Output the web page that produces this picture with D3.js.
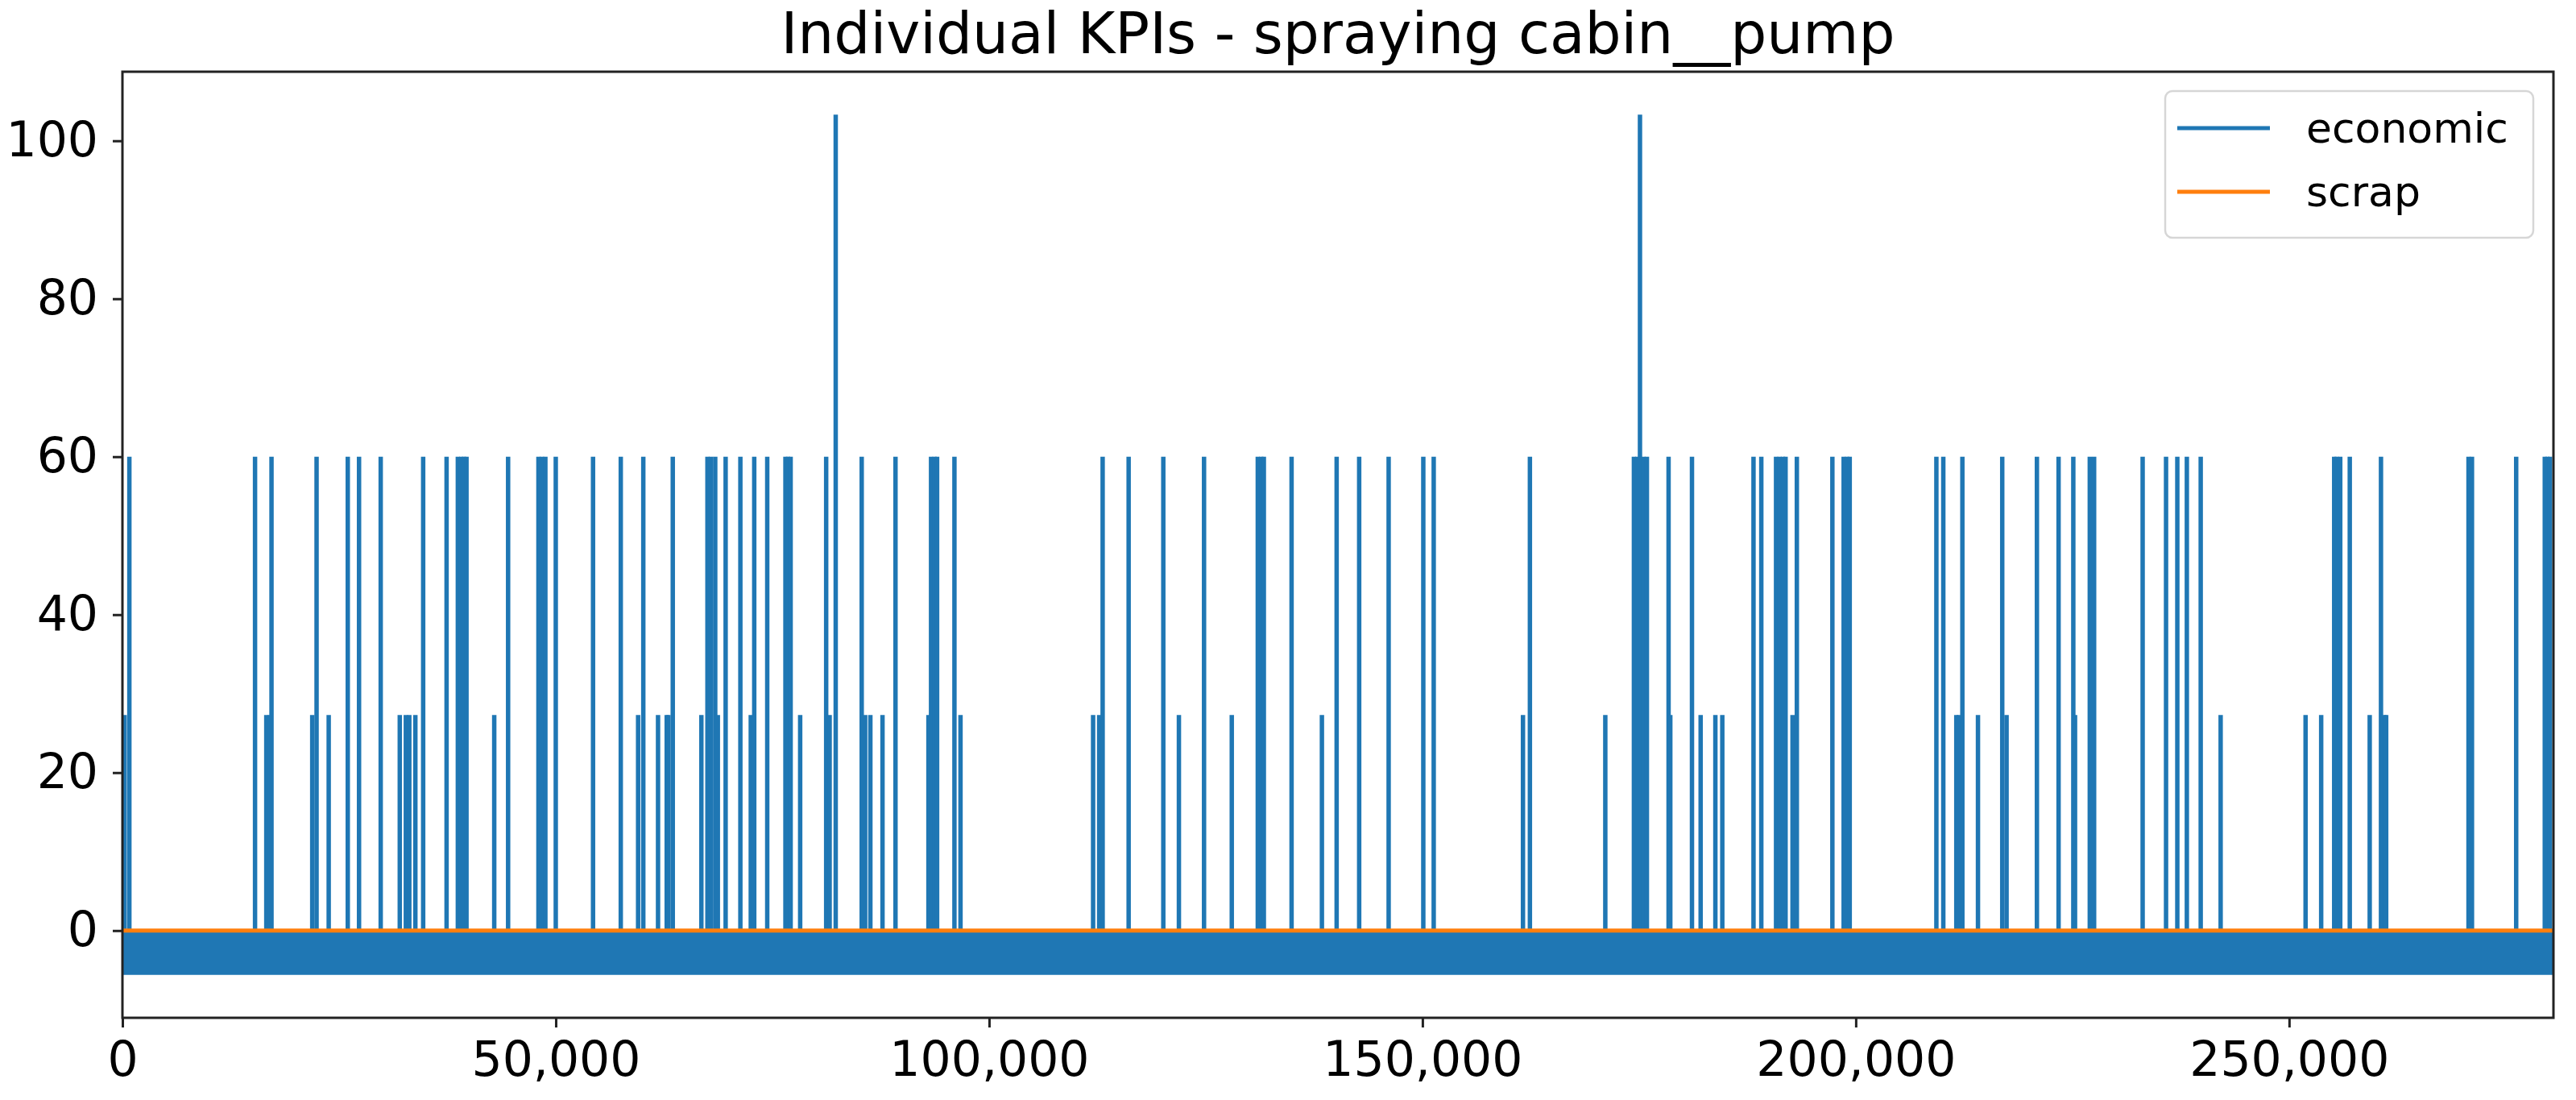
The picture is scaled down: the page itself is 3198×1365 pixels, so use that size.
<!DOCTYPE html>
<html>
<head>
<meta charset="utf-8">
<script src="https://cdn.jsdelivr.net/npm/d3@7"></script>
<style>
	body { margin: 0; background: #fff; }
	text { font-family: "DejaVu Sans", sans-serif; fill: #000; }
</style>
</head>
<body>
<div id="chart"></div>
<script>

// chart values
const chartTitle = "Individual KPIs - spraying cabin__pump";
const seriesNames = ["economic", "scrap"];
const xMax = 280500;
const xTicks = [0, 50000, 100000, 150000, 200000, 250000];
const yTicks = [0, 20, 40, 60, 80, 100];

// economic keeps flipping between these two levels all the time (the thick band)
const bandLevels = [-5.6, 0];
const scrapLevel = 0;

// spikes of the economic series
const peakValue = 103.3;
const peakX = [82300, 175100];
const highValue = 60;
const highX = [800, 15300, 17200, 22400, 26000, 27300, 29800, 34700, 37400, 38700, 39100, 39400, 39700,
	44500, 48000, 48400, 48800, 50000, 54300, 57500, 60100, 63500, 67500, 67900, 68400, 69600,
	71300, 72900, 74400, 76500, 76800, 77100, 81200, 85300, 89200, 93300, 93700, 94000, 96000,
	113100, 116100, 120100, 124800, 131000, 131400, 131700, 134900, 140100,
	142700, 146100, 150100, 151300, 162400, 174400, 174800, 175500, 175900, 178400, 181100,
	188200, 189100, 190800, 191200, 191600, 191900, 193200, 197300, 198600, 199000, 199300, 209300, 210100,
	212300, 216900, 220900, 223400, 225100, 227000, 227500, 233100, 235800, 237100, 238200, 239800,
	255200, 255500, 255900, 257000, 260600, 270700, 271100, 276200, 279500, 279800, 280100];
const lowValue = 27.3;
const lowX = [250, 16600, 17000, 21900, 23800, 32000, 32700, 33100, 33800, 42900, 59500, 61800, 62800, 63000,
	66800, 68700, 72500, 78200, 81600, 85700, 86300, 87700, 93000, 96700, 112000, 112700, 121900, 128000,
	138400, 161600, 171100, 178600, 182100, 183800, 184600, 192700, 211600, 211900, 214100, 217400,
	225300, 242100, 251900, 253700, 259300, 261000, 261200];

const colors = ["#1f77b4", "#ff7f0e"];


class KpiLineVis {

	constructor(parentElement) {
		this.parentElement = parentElement;
		this.initVis();
	}

	initVis() {
		let vis = this;

		vis.margin = { top: 89, right: 28, bottom: 102, left: 152 };
		vis.width = 3198 - vis.margin.left - vis.margin.right;
		vis.height = 1365 - vis.margin.top - vis.margin.bottom;

		vis.svg = d3.select(vis.parentElement).append("svg")
			.attr("width", 3198)
			.attr("height", 1365)
			.append("g")
			.attr("transform", "translate(" + vis.margin.left + "," + vis.margin.top + ")");

		vis.x = d3.scaleLinear()
			.domain([0, xMax])
			.range([0, vis.width]);

		// matplotlib style 5% margin around the data
		let yMin = bandLevels[0], yMax = peakValue;
		let pad = (yMax - yMin) * 0.05;
		vis.y = d3.scaleLinear()
			.domain([yMin - pad, yMax + pad])
			.range([vis.height, 0]);

		vis.wrangleData();
	}

	wrangleData() {
		let vis = this;

		vis.spikes = [];
		highX.forEach(d => vis.spikes.push({ x: d, value: highValue }));
		lowX.forEach(d => vis.spikes.push({ x: d, value: lowValue }));
		peakX.forEach(d => vis.spikes.push({ x: d, value: peakValue }));
		vis.spikes.sort((a, b) => a.x - b.x);

		vis.updateVis();
	}

	updateVis() {
		let vis = this;

		let plot = vis.svg.append("g");

		// thick band of the economic series
		let band = d3.area()
			.x(d => vis.x(d))
			.y0(vis.y(bandLevels[0]))
			.y1(vis.y(bandLevels[1]));

		plot.append("path")
			.datum([0, xMax])
			.attr("d", band)
			.attr("fill", colors[0]);

		let line = d3.line()
			.x(d => vis.x(d[0]))
			.y(d => vis.y(d[1]));

		plot.selectAll(".spike")
			.data(vis.spikes)
			.enter()
			.append("path")
			.attr("class", "spike")
			.attr("d", d => line([[d.x, bandLevels[1]], [d.x, d.value]]))
			.attr("fill", "none")
			.attr("stroke", colors[0])
			.attr("stroke-width", 5.5);

		// scrap stays at zero
		plot.append("path")
			.datum([[0, scrapLevel], [xMax, scrapLevel]])
			.attr("d", line)
			.attr("fill", "none")
			.attr("stroke", colors[1])
			.attr("stroke-width", 5);

		// axes
		vis.xAxis = d3.axisBottom(vis.x)
			.tickValues(xTicks)
			.tickFormat(d3.format(","))
			.tickSize(12)
			.tickSizeOuter(0)
			.tickPadding(17);

		vis.yAxis = d3.axisLeft(vis.y)
			.tickValues(yTicks)
			.tickSize(12)
			.tickSizeOuter(0)
			.tickPadding(18);

		let gx = vis.svg.append("g")
			.attr("class", "x-axis axis")
			.attr("transform", "translate(0," + vis.height + ")")
			.call(vis.xAxis);

		let gy = vis.svg.append("g")
			.attr("class", "y-axis axis")
			.call(vis.yAxis);

		[gx, gy].forEach(g => {
			g.select(".domain").remove();
			g.selectAll("line").attr("stroke", "#222").attr("stroke-width", 3);
			g.selectAll("text")
				.attr("font-size", 60)
				.attr("font-family", "DejaVu Sans")
				.attr("fill", "#000");
		});

		// frame
		vis.svg.append("rect")
			.attr("x", 0)
			.attr("y", 0)
			.attr("width", vis.width)
			.attr("height", vis.height)
			.attr("fill", "none")
			.attr("stroke", "#222")
			.attr("stroke-width", 3);

		// title
		vis.svg.append("text")
			.attr("x", vis.width / 2)
			.attr("y", -23)
			.attr("text-anchor", "middle")
			.attr("font-size", 71)
			.text(chartTitle);

		vis.drawLegend();
	}

	drawLegend() {
		let vis = this;

		let legend = vis.svg.append("g")
			.attr("class", "legend")
			.attr("transform", "translate(" + (vis.width - 482) + ",24)");

		legend.append("rect")
			.attr("width", 457)
			.attr("height", 182)
			.attr("rx", 9)
			.attr("fill", "#fff")
			.attr("fill-opacity", 0.8)
			.attr("stroke", "#d6d6d6")
			.attr("stroke-width", 2.5);

		let items = legend.selectAll(".legend-item")
			.data(seriesNames)
			.enter()
			.append("g")
			.attr("class", "legend-item")
			.attr("transform", (d, i) => "translate(0," + (46 + i * 79) + ")");

		items.append("line")
			.attr("x1", 15)
			.attr("x2", 130)
			.attr("stroke", (d, i) => colors[i])
			.attr("stroke-width", 5);

		items.append("text")
			.attr("x", 175)
			.attr("y", 18)
			.attr("font-size", 52)
			.text(d => d);
	}
}

new KpiLineVis(document.getElementById("chart"));

</script>
</body>
</html>
